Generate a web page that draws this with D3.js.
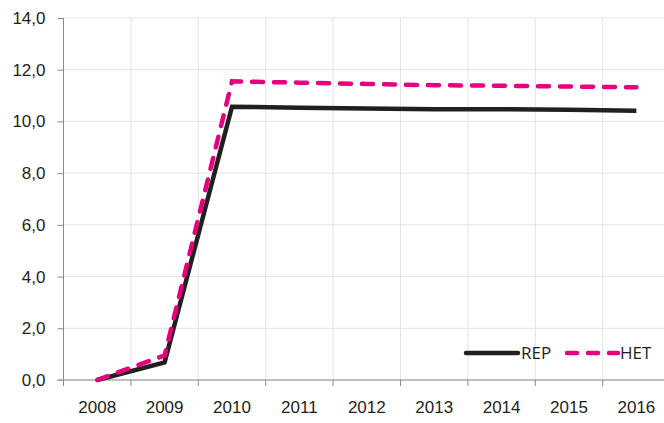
<!DOCTYPE html>
<html>
  <head>
    <meta charset="utf-8">
    <script src="https://d3js.org/d3.v7.min.js"></script>
    <style>
      body { margin: 0; background: #fff; }
      svg { display: block; font-family: "Open Sans", "Noto Sans", sans-serif; }
    </style>
  </head>
  <body>
    <div id="chart"></div>
    <script>
      // data
      var years = ["2008", "2009", "2010", "2011", "2012", "2013", "2014", "2015", "2016"];
      var rep = [0, 0.68, 10.57, 10.53, 10.5, 10.47, 10.47, 10.45, 10.41];
      var het = [0, 0.95, 11.55, 11.5, 11.45, 11.4, 11.38, 11.35, 11.32];
      var yTicks = [0, 2, 4, 6, 8, 10, 12, 14];

      var width = 664, height = 423;
      var plotLeft = 63.5, plotTop = 18, plotBottom = 380;
      var plotW = 67.4 * years.length;   // the plot runs a little past the right edge

      var svg = d3.select("#chart").append("svg")
        .attr("width", width)
        .attr("height", height);

      var x = d3.scaleBand().domain(years).range([plotLeft, plotLeft + plotW]);
      var y = d3.scaleLinear().domain([0, 14]).range([plotBottom, plotTop]);
      var fmt = function(d) { return d3.format(".1f")(d).replace(".", ","); };

      // grid
      svg.append("g").selectAll("line")
        .data(yTicks.slice(1))
        .enter().append("line")
        .attr("x1", plotLeft).attr("x2", plotLeft + plotW)
        .attr("y1", function(d) { return y(d); })
        .attr("y2", function(d) { return y(d); })
        .style("stroke", "#e3e3e3").style("stroke-width", 1);

      svg.append("g").selectAll("line")
        .data(years.slice(1))
        .enter().append("line")
        .attr("x1", function(d) { return x(d); })
        .attr("x2", function(d) { return x(d); })
        .attr("y1", plotTop).attr("y2", plotBottom)
        .style("stroke", "#e3e3e3").style("stroke-width", 1);

      // y axis
      var yAxis = svg.append("g")
        .attr("transform", "translate(" + plotLeft + ",0)")
        .call(d3.axisLeft(y).tickValues(yTicks).tickFormat(fmt).tickSize(6).tickPadding(12));
      yAxis.select(".domain").attr("d", "M0," + plotTop + "V" + plotBottom).style("stroke", "#8a8a8a");
      yAxis.selectAll(".tick line").style("stroke", "#8a8a8a");
      yAxis.selectAll("text")
        .style("font-size", "17px").style("fill", "#231f20");

      // x axis
      var xAxis = svg.append("g")
        .attr("transform", "translate(0," + plotBottom + ")")
        .call(d3.axisBottom(x).tickSize(0).tickPadding(21));
      xAxis.select(".domain").attr("d", "M" + (plotLeft - 6) + ",0H" + (plotLeft + plotW)).style("stroke", "#a8a8a8").style("stroke-width", 1.5);
      xAxis.selectAll("text")
        .style("font-size", "17px").style("fill", "#231f20");
      xAxis.selectAll(".xtick").data(years)
        .enter().append("line")
        .attr("class", "xtick")
        .attr("x1", function(d) { return x(d); })
        .attr("x2", function(d) { return x(d); })
        .attr("y1", 0).attr("y2", 6)
        .style("stroke", "#8a8a8a");

      var line = d3.line()
        .x(function(d, i) { return x(years[i]) + x.bandwidth() / 2; })
        .y(function(d) { return y(d); });

      svg.append("path")
        .datum(rep)
        .attr("d", line)
        .style("fill", "none")
        .style("stroke", "#231f20")
        .style("stroke-width", 4.5)
        .style("stroke-linejoin", "miter");

      svg.append("path")
        .datum(het)
        .attr("d", line)
        .style("fill", "none")
        .style("stroke", "#e6007e")
        .style("stroke-width", 4.5)
        .style("stroke-dasharray", "11,11")
        .style("stroke-linecap", "round");

      // legend
      var legend = svg.append("g").attr("transform", "translate(0,353)");
      legend.append("line")
        .attr("x1", 466).attr("x2", 518).attr("y1", 0).attr("y2", 0)
        .style("stroke", "#231f20").style("stroke-width", 4.5).style("stroke-linecap", "round");
      legend.append("text")
        .attr("x", 521).attr("y", 6)
        .text("REP")
        .style("font-size", "17px").style("fill", "#231f20");
      legend.append("line")
        .attr("x1", 567).attr("x2", 618).attr("y1", 0).attr("y2", 0)
        .style("stroke", "#e6007e").style("stroke-width", 4.5)
        .style("stroke-dasharray", "10,11").style("stroke-linecap", "round");
      legend.append("text")
        .attr("x", 620).attr("y", 6)
        .text("HET")
        .style("font-size", "17px").style("fill", "#231f20");
    </script>
  </body>
</html>
